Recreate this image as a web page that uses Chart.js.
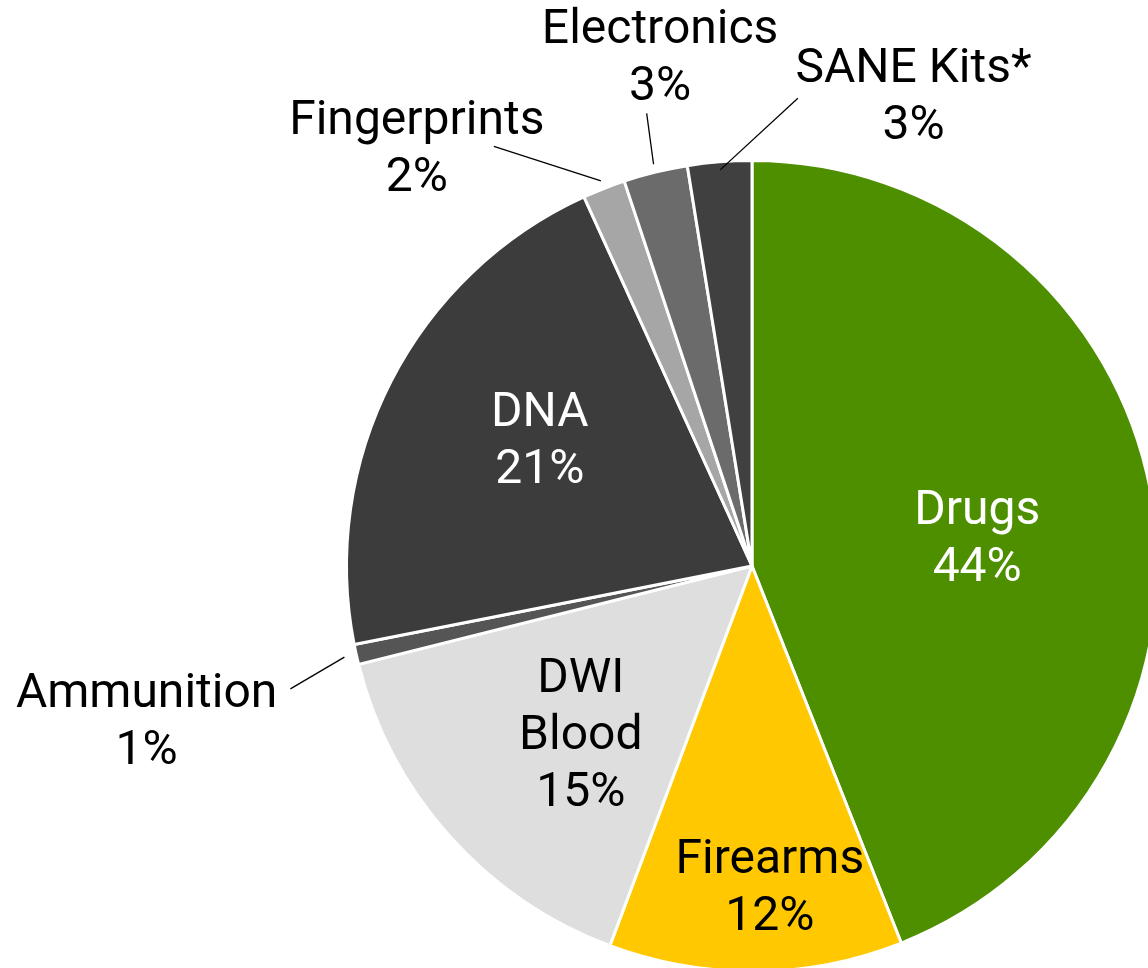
<!DOCTYPE html>
<html>
<head>
<meta charset="utf-8">
<script src="https://cdn.jsdelivr.net/npm/chart.js@4.4.1/dist/chart.umd.min.js"></script>
<style>
  html, body { margin: 0; padding: 0; background: #ffffff; }
  #wrap { width: 1148px; height: 968px; overflow: hidden; position: relative; }
  canvas { display: block; }
</style>
</head>
<body>
<div id="wrap"><canvas id="c" width="1200" height="1020"></canvas></div>
<script>
// ---- data ----
const categories = ["Drugs", "Firearms", "DWI Blood", "Ammunition", "DNA", "Fingerprints", "Electronics", "SANE Kits*"];
const labelLines = [["Drugs"], ["Firearms"], ["DWI", "Blood"], ["Ammunition"], ["DNA"], ["Fingerprints"], ["Electronics"], ["SANE Kits*"]];
const shares = [44.0, 11.7, 15.4, 0.8, 21.3, 1.7, 2.55, 2.55];

// ---- styles ----
const sliceColors = ["#4e8f00", "#ffc800", "#dedede", "#555555", "#3c3c3c", "#a6a6a6", "#6b6b6b", "#404040"];
const textColors = ["#ffffff", "#000000", "#000000", "#000000", "#ffffff", "#000000", "#000000", "#000000"];
// label placement: angle (deg, clockwise from 12 o'clock) and distance in pie radii
const labelPlace = [
  { a: 82.6, r: 0.56 },
  { a: 176.8, r: 0.79 },
  { a: 225.7, r: 0.59 },
  { a: 255.8, r: 1.54, lead: { a: 255.1, r: 1.178, r2: 1.03 } },
  { a: 300.9, r: 0.61 },
  { a: 321.4, r: 1.325, lead: { a: 328.4, r: 1.215, r2: 1.02 } },
  { a: 349.8, r: 1.28, lead: { a: 346.9, r: 1.146, r2: 1.02 } },
  { a: 18.9, r: 1.23, lead: { a: 5.6, r: 1.159, r2: 0.98 } }
];
const FONT_SIZE = 48;
const LINE_H = 57;
const TEXT_DY = 4;

const total = shares.reduce((s, v) => s + v, 0);

function polar(cx, cy, deg, rad) {
  const t = (deg - 90) * Math.PI / 180;
  return { x: cx + rad * Math.cos(t), y: cy + rad * Math.sin(t) };
}

const labelPlugin = {
  id: 'sliceLabels',
  afterDatasetsDraw(chart) {
    const ctx = chart.ctx;
    const meta = chart.getDatasetMeta(0);
    ctx.save();
    meta.data.forEach((arc, i) => {
      const p = arc.getProps(['x', 'y', 'outerRadius', 'startAngle', 'endAngle'], true);
      const R = p.outerRadius;
      const place = labelPlace[i];
      const pct = Math.round(shares[i] / total * 100) + "%";
      const lines = labelLines[i].concat([pct]);
      const c = polar(p.x, p.y, place.a, place.r * R);
      if (place.lead) {
        const midDeg = ((p.startAngle + p.endAngle) / 2) * 180 / Math.PI + 90;
        const s = polar(p.x, p.y, place.lead.a, place.lead.r * R);
        const e = polar(p.x, p.y, midDeg, place.lead.r2 * R);
        ctx.beginPath();
        ctx.moveTo(s.x, s.y);
        ctx.lineTo(e.x, e.y);
        ctx.strokeStyle = "#000000";
        ctx.lineWidth = 1.3;
        ctx.stroke();
      }
      ctx.font = FONT_SIZE + "px Roboto";
      ctx.fillStyle = textColors[i];
      ctx.textAlign = "center";
      ctx.textBaseline = "middle";
      const n = lines.length;
      lines.forEach((ln, k) => {
        const y = c.y + TEXT_DY + (k - (n - 1) / 2) * LINE_H;
        ctx.fillText(ln, c.x, y);
      });
    });
    ctx.restore();
  }
};

new Chart(document.getElementById('c'), {
  type: 'pie',
  data: {
    labels: categories,
    datasets: [{
      data: shares,
      backgroundColor: sliceColors,
      borderColor: "#ffffff",
      borderWidth: 3
    }]
  },
  options: {
    responsive: false,
    animation: false,
    layout: { padding: { left: 345, top: 159, right: 41, bottom: 47 } },
    plugins: {
      legend: { display: false },
      tooltip: { enabled: false }
    }
  },
  plugins: [labelPlugin]
});
</script>
</body>
</html>
